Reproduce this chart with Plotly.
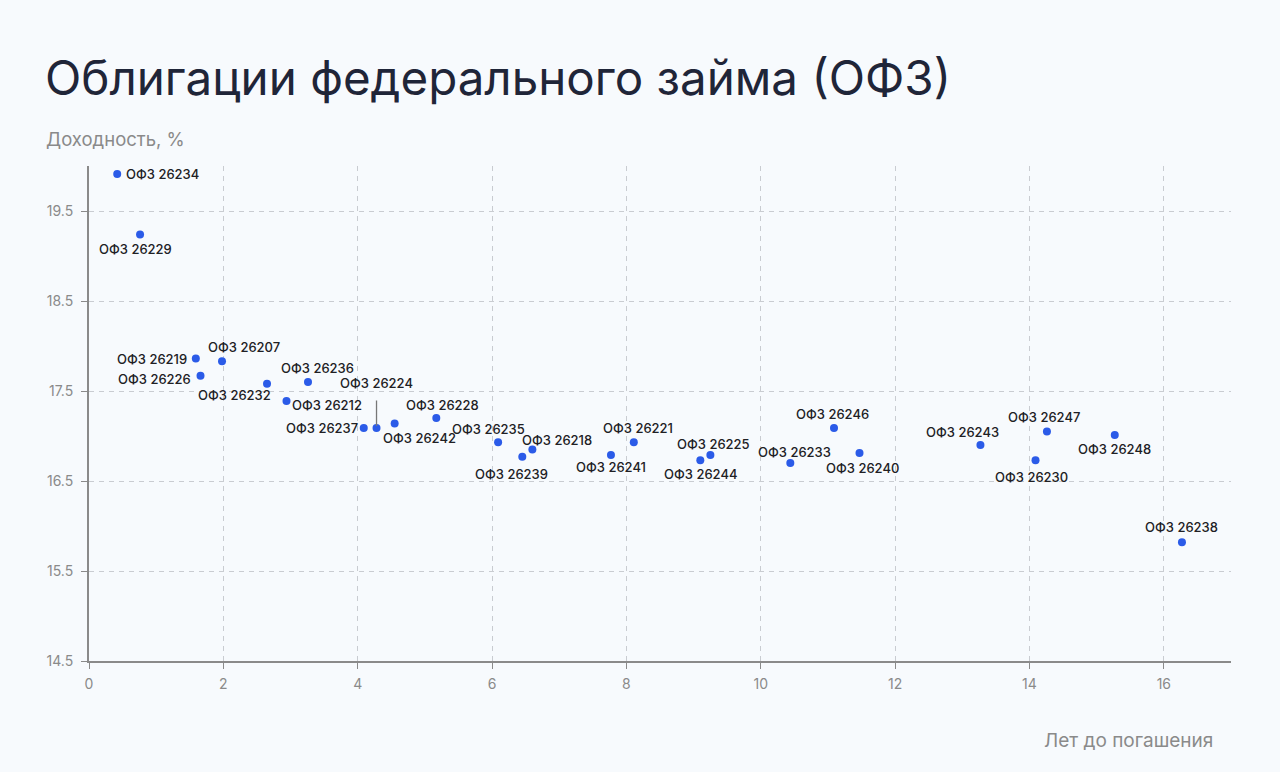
import plotly.graph_objects as go

# Data
bonds = ["ОФЗ 26234", "ОФЗ 26229", "ОФЗ 26219", "ОФЗ 26207", "ОФЗ 26226", "ОФЗ 26232",
         "ОФЗ 26236", "ОФЗ 26212", "ОФЗ 26237", "ОФЗ 26224", "ОФЗ 26242", "ОФЗ 26228",
         "ОФЗ 26235", "ОФЗ 26239", "ОФЗ 26218", "ОФЗ 26241", "ОФЗ 26221", "ОФЗ 26244",
         "ОФЗ 26225", "ОФЗ 26233", "ОФЗ 26246", "ОФЗ 26240", "ОФЗ 26243", "ОФЗ 26247",
         "ОФЗ 26230", "ОФЗ 26248", "ОФЗ 26238"]
years = [0.42, 0.76, 1.59, 1.98, 1.66, 2.65,
         3.26, 2.94, 4.09, 4.28, 4.55, 5.17,
         6.09, 6.45, 6.60, 7.77, 8.11, 9.10,
         9.25, 10.44, 11.09, 11.47, 13.27, 14.26,
         14.09, 15.27, 16.27]
yields = [19.91, 19.24, 17.86, 17.83, 17.67, 17.58,
          17.60, 17.39, 17.09, 17.09, 17.14, 17.20,
          16.93, 16.77, 16.85, 16.79, 16.93, 16.73,
          16.79, 16.70, 17.09, 16.81, 16.90, 17.05,
          16.73, 17.01, 15.82]

# Label placement (pixel shifts from each point), style only
label_shift = [(45, 0), (-5, -15), (-44, 0), (22, 14), (-46, -3), (-33, -11),
               (9, 14), (40, -4), (-42, 0), (0, 45), (25, -15), (6, 13),
               (-10, 13), (-11, -17), (25, 10), (0, -12), (4, 14), (0, -14),
               (3, 11), (4, 11), (-1, 14), (3, -15), (-18, 13), (-3, 15),
               (-4, -17), (0, -14), (0, 15)]

x_ticks = [0, 2, 4, 6, 8, 10, 12, 14, 16]
y_ticks = [14.5, 15.5, 16.5, 17.5, 18.5, 19.5]

BG = "#f7fafd"
GRAY = "#8a8a8a"
GRID = "#c9ccd1"
FONT = "Inter"

fig = go.Figure()
fig.add_trace(go.Scatter(
    x=years, y=yields, mode="markers",
    marker=dict(size=8, color="#2b5be8"),
    hoverinfo="skip", showlegend=False,
))

label_font = dict(family=FONT, size=13, color="#202024", weight=500)
annotations = []
for name, xv, yv, (dx, dy) in zip(bonds, years, yields, label_shift):
    if name == "ОФЗ 26224":
        annotations.append(dict(
            x=xv, y=yv, xref="x", yref="y", text=name, showarrow=True,
            ax=dx, ay=-dy, arrowhead=0, arrowwidth=1.3, arrowcolor="#777",
            standoff=2, startstandoff=8, font=label_font,
        ))
    else:
        annotations.append(dict(
            x=xv, y=yv, xref="x", yref="y", text=name, showarrow=False,
            xshift=dx, yshift=dy, xanchor="center", yanchor="middle", font=label_font,
        ))

annotations.append(dict(
    x=44, y=139, xref="paper", yref="paper", text="Доходность, %", showarrow=False,
    font=dict(family=FONT, size=18.5, color=GRAY), xanchor="left", yanchor="middle",
))
annotations.append(dict(
    x=1215, y=740, xref="paper", yref="paper", text="Лет до погашения", showarrow=False,
    font=dict(family=FONT, size=19, color=GRAY), xanchor="right", yanchor="middle",
))

# convert the two paper-pixel annotations into paper fractions
W, H = 1280, 772
ML, MR, MT, MB = 89, 49, 166, 111
pw, ph = W - ML - MR, H - MT - MB
for a in annotations[-2:]:
    a["x"] = (a["x"] - ML) / pw
    a["y"] = 1 - (a["y"] - MT) / ph

fig.update_layout(
    width=W, height=H,
    paper_bgcolor=BG, plot_bgcolor=BG,
    margin=dict(l=ML, r=MR, t=MT, b=MB),
    title=dict(text="Облигации федерального займа (ОФЗ)", x=45 / W, xanchor="left",
               y=1 - 78 / H, yanchor="middle",
               font=dict(family=FONT, size=47.5, color="#1f2538")),
    annotations=annotations,
    xaxis=dict(range=[0, 17], tickvals=x_ticks, ticktext=[str(v) for v in x_ticks],
               showgrid=True, gridcolor=GRID, griddash="5px,5px", gridwidth=1,
               showline=True, linecolor=GRAY, linewidth=2,
               ticks="outside", ticklen=6, tickcolor=GRAY, ticklabelstandoff=3,
               tickfont=dict(family=FONT, size=14, color=GRAY), zeroline=False),
    yaxis=dict(range=[14.5, 20.0], tickvals=y_ticks, ticktext=[f"{v:.1f}" for v in y_ticks],
               showgrid=True, gridcolor=GRID, griddash="5px,5px", gridwidth=1,
               showline=True, linecolor=GRAY, linewidth=2,
               ticks="outside", ticklen=6, tickcolor=GRAY, ticklabelstandoff=5,
               tickfont=dict(family=FONT, size=14, color=GRAY), zeroline=False),
)

fig.write_html(
    "out.html",
    config={"displayModeBar": False},
    post_script="document.body.style.margin='0';document.body.style.background='" + BG + "';",
)
